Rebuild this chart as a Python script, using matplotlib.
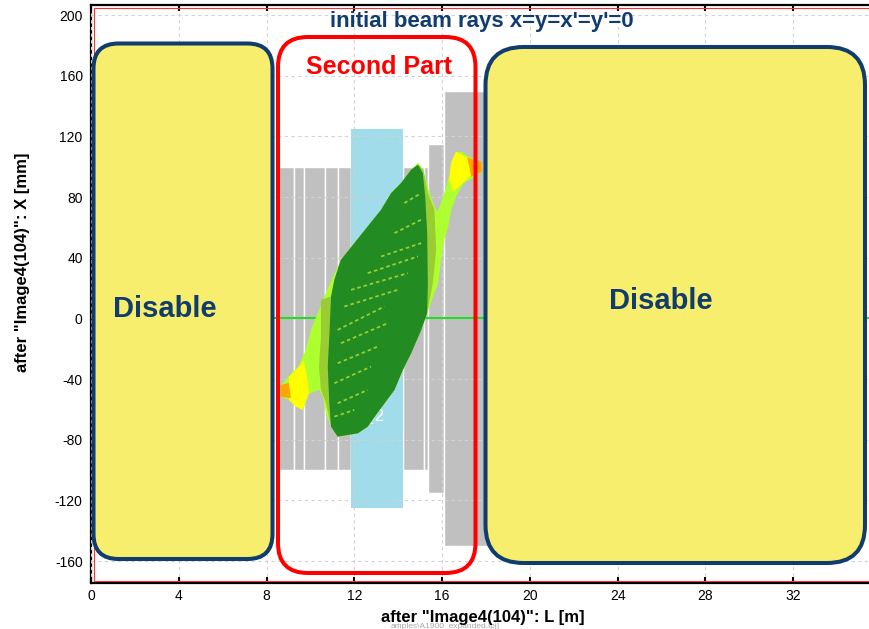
import matplotlib.pyplot as plt
from matplotlib.patches import Polygon, Rectangle, FancyBboxPatch

plt.rcParams['font.family'] = ['Liberation Sans', 'DejaVu Sans']
plt.rcParams['axes.unicode_minus'] = False

# Aperture elements along the line: segment edges [m] and half aperture [mm]
seg_edges = [8.40, 9.25, 9.70, 10.66, 11.25, 11.85, 14.22, 15.18, 15.37, 16.10, 18.40]
seg_half = [100, 100, 100, 100, 100, 100, 100, 100, 115, 150]

# Quadrupole Q2
quad_L = [11.85, 14.22]
quad_half = 125
quad_name = 'Q2'
quad_label_pos = (12.86, -64.4)

# Ray density envelopes (L [m], X [mm])
env_outer = [(8.65, -44.6), (9.02, -38.0), (9.47, -31.4), (9.79, -20.8), (10.02, -7.6),
             (10.39, 5.6), (10.71, 16.8), (11.03, 27.4), (11.39, 38.6), (11.99, 49.8),
             (12.63, 60.4), (13.22, 71.6), (13.68, 82.8), (14.13, 89.4), (14.59, 98.0),
             (14.91, 102.6), (15.14, 98.0), (15.41, 83.5), (15.64, 74.3), (15.78, 70.3),
             (15.91, 74.3), (16.10, 82.8), (16.28, 91.4), (16.42, 102.6), (16.60, 109.2),
             (16.87, 110.0), (17.19, 106.6), (17.79, 103.3), (17.83, 96.7), (17.42, 92.7),
             (16.96, 88.8), (16.64, 80.2), (16.42, 71.6), (16.28, 60.4), (16.10, 51.8),
             (15.96, 38.6), (15.82, 23.4), (15.59, 14.2), (15.37, 5.6), (15.05, -7.6),
             (14.59, -22.8), (14.22, -34.0), (13.81, -47.2), (13.05, -62.4), (12.61, -71.6),
             (12.17, -75.6), (11.26, -78.2), (10.94, -71.6), (10.71, -62.4), (10.57, -51.8),
             (10.39, -47.2), (9.93, -49.8), (9.66, -60.4), (9.34, -58.4), (9.02, -53.8),
             (8.65, -51.8)]
env_mid = [(10.48, 12.2), (10.94, 14.4), (11.09, 25.4), (11.39, 38.6), (12.00, 49.6),
           (12.61, 60.6), (13.22, 71.6), (13.68, 82.6), (14.13, 89.2), (14.59, 98.0),
           (14.90, 101.3), (15.14, 98.0), (15.35, 82.8), (15.65, 71.6), (15.73, 45.2),
           (15.58, 23.4), (15.35, 5.6), (15.05, -7.6), (14.59, -23.0), (14.21, -34.0),
           (13.83, -47.2), (13.05, -62.4), (12.61, -71.4), (12.16, -75.8), (11.24, -78.0),
           (10.94, -71.4), (10.71, -55.8), (10.48, -47.2), (10.39, -32.0), (10.48, -12.2)]
env_core = [(14.90, 101.3), (15.12, 95.8), (15.23, 80.4), (15.32, 56.2), (15.35, 23.2),
            (15.32, 3.4), (15.05, -7.6), (14.59, -23.0), (14.21, -34.0), (13.83, -47.2),
            (13.05, -62.4), (12.61, -71.4), (12.16, -75.8), (11.24, -78.0), (10.94, -71.4),
            (10.86, -56.0), (10.79, -31.8), (10.86, -12.0), (10.94, 14.4), (11.09, 25.4),
            (11.39, 38.6), (12.00, 49.6), (12.61, 60.6), (13.22, 71.6), (13.68, 82.6),
            (14.13, 89.2), (14.59, 98.0)]
tail_hi_yellow = [(16.64, 109.9), (17.15, 105.9), (17.33, 94.7), (16.87, 88.1),
                  (16.51, 83.5), (16.32, 91.4), (16.42, 103.3)]
tail_hi_orange = [(17.15, 105.9), (17.79, 103.3), (17.83, 96.7), (17.33, 93.4)]
tail_lo_yellow = [(9.02, -38.6), (9.47, -32.0), (9.70, -27.4), (9.87, -40.6),
                  (9.93, -49.2), (9.64, -60.4), (9.34, -58.2), (9.02, -53.8)]
tail_lo_orange = [(8.65, -43.9), (9.02, -42.6), (9.11, -52.5), (8.65, -51.8)]

# Density streaks inside the core (start, end)
streaks = [((11.09, -42.8), (12.76, -31.8)), ((11.24, -29.6), (13.07, -18.6)),
           ((11.39, -16.4), (13.52, -3.2)), ((11.24, -7.6), (13.37, 7.8)),
           ((11.54, 7.8), (13.98, 18.8)), ((11.85, 18.8), (14.44, 29.8)),
           ((12.61, 29.8), (14.90, 40.8)), ((13.22, 40.8), (15.05, 49.6)),
           ((13.83, 56.2), (15.05, 65.0)), ((11.24, -56.0), (12.61, -47.2)),
           ((11.09, -64.8), (12.00, -60.4)), ((14.28, 76.0), (15.05, 82.6))]

x_ticks = [0, 4, 8, 12, 16, 20, 24, 28, 32]
y_ticks = [200, 160, 120, 80, 40, 0, -40, -80, -120, -160]

navy = '#103c6e'

fig = plt.figure(figsize=(8.70, 6.29), dpi=100)
ax = fig.add_axes([91 / 870, 46 / 629, 779 / 870, 578 / 629])
ax.set_xlim(0, 35.5)
ax.set_ylim(-174.5, 206.6)

# apertures
for i, h in enumerate(seg_half):
    ax.bar(seg_edges[i], 2 * h, width=seg_edges[i + 1] - seg_edges[i], bottom=-h,
           align='edge', color='#c0c0c0', edgecolor='white', linewidth=1.0, zorder=1)
ax.bar(quad_L[0], 2 * quad_half, width=quad_L[1] - quad_L[0], bottom=-quad_half,
       align='edge', color='#a0dce9', linewidth=0, zorder=1.5)
ax.text(quad_label_pos[0], quad_label_pos[1], quad_name, color='white', fontsize=12,
        ha='center', va='center', zorder=3)

# reference orbit
ax.axhline(0, color='#22dd22', linewidth=1.5, zorder=3)

# beam envelopes
ax.add_patch(Polygon(env_outer, closed=True, facecolor='#adff2f', edgecolor='none', zorder=4))
ax.add_patch(Polygon(tail_hi_yellow, closed=True, facecolor='#ffff00', edgecolor='none', zorder=4.1))
ax.add_patch(Polygon(tail_lo_yellow, closed=True, facecolor='#ffff00', edgecolor='none', zorder=4.1))
ax.add_patch(Polygon(tail_hi_orange, closed=True, facecolor='#ffa500', edgecolor='none', zorder=4.2))
ax.add_patch(Polygon(tail_lo_orange, closed=True, facecolor='#ffa500', edgecolor='none', zorder=4.2))
ax.add_patch(Polygon(env_mid, closed=True, facecolor='#9acd32', edgecolor='none', zorder=4.3))
core = Polygon(env_core, closed=True, facecolor='#228b22', edgecolor='none', zorder=4.4)
ax.add_patch(core)
for (x0, y0), (x1, y1) in streaks:
    ln, = ax.plot([x0, x1], [y0, y1], color='#9acd32', linewidth=1.3,
                  linestyle=(0, (2.0, 1.6)), zorder=4.5)
    ln.set_clip_path(core)

# axes styling
ax.set_xticks(x_ticks)
ax.set_yticks(y_ticks)
ax.set_axisbelow(False)
ax.grid(True, color='#d2d2d2', linestyle=(0, (3, 3)), linewidth=0.8)
ax.tick_params(direction='in', length=4, width=1.5, top=True, right=False,
               labelsize=10, pad=4)
ax.tick_params(axis='y', length=0, pad=6)
for side in ['left', 'bottom', 'top']:
    ax.spines[side].set_linewidth(1.6)
ax.spines['right'].set_visible(False)
ax.add_patch(Rectangle((0.004, 0.004), 1.2, 0.9915, transform=ax.transAxes, fill=False,
                       edgecolor='#ff3030', linewidth=0.8, zorder=5))

# region boxes (inches from the lower left corner)
def box(x0, y0, x1, y1, r, face, edge):
    p = FancyBboxPatch((x0 / 100, (629 - y1) / 100), (x1 - x0) / 100, (y1 - y0) / 100,
                       boxstyle='round,pad=0,rounding_size=%.3f' % (r / 100),
                       transform=fig.dpi_scale_trans, facecolor=face, edgecolor=edge,
                       linewidth=2.9, clip_on=False, zorder=6)
    ax.add_patch(p)

box(93.5, 43.5, 272.5, 559, 25, '#f6ee6c', navy)
box(485.5, 47, 865, 563, 38, '#f6ee6c', navy)
box(278, 37, 475.5, 573, 30, 'none', '#ff0000')

fig.text(164.5 / 870, 1 - 317.3 / 629, 'Disable', fontsize=21, fontweight='bold',
         color=navy, ha='center', va='baseline', zorder=10)
fig.text(661 / 870, 1 - 309.3 / 629, 'Disable', fontsize=21, fontweight='bold',
         color=navy, ha='center', va='baseline', zorder=10)
fig.text(379 / 870, 1 - 74 / 629, 'Second Part', fontsize=18, fontweight='bold',
         color='#ff0000', ha='center', va='baseline', zorder=10)
fig.text(482 / 870, 1 - 26.7 / 629, "initial beam rays x=y=x'=y'=0", fontsize=16,
         fontweight='bold', color=navy, ha='center', va='baseline', zorder=10)

# project file name, printed small under the axis title
fig.text(445 / 870, 1 - 628 / 629, 'amples\\A1900_expanded.lpj]', fontsize=6,
         color='#a8a8a8', ha='center', va='baseline')
fig.text(483 / 870, 1 - 622 / 629, 'after "Image4(104)": L [m]', fontsize=12,
         fontweight='bold', ha='center', va='baseline')
fig.text(23 / 870, 1 - 262 / 629, 'after "Image4(104)": X [mm]', fontsize=12,
         fontweight='bold', rotation=90, ha='center', va='center')

fig.savefig('out.png', dpi=100)
